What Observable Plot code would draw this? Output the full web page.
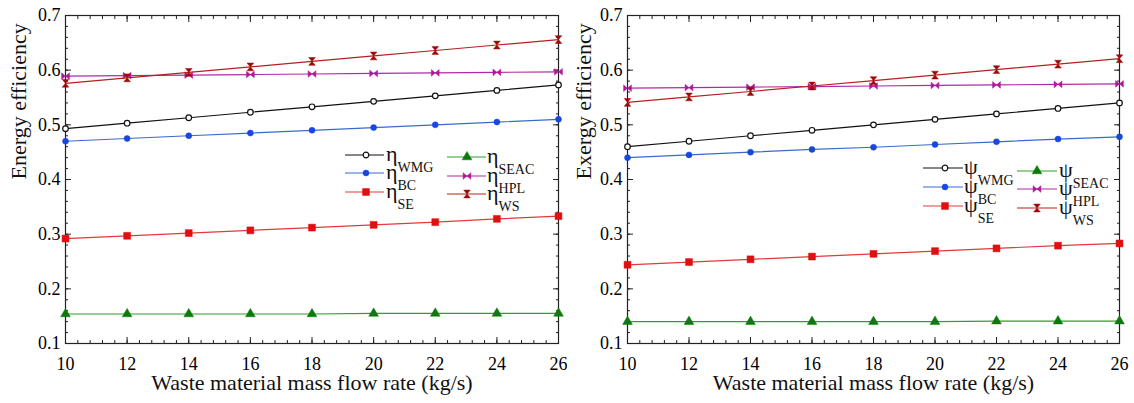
<!DOCTYPE html>
<html><head><meta charset="utf-8">
<script src="https://cdn.jsdelivr.net/npm/d3@7"></script>
<script src="https://cdn.jsdelivr.net/npm/@observablehq/plot@0.6"></script>
<style>
body{margin:0;background:#fff;}
#wrap{position:relative;width:1134px;height:403px;display:flex;}
#legend{position:absolute;left:0;top:0;pointer-events:none;}
.ser{font-family:"Liberation Serif";}
</style>
</head><body><div id="wrap"></div><script>
// ---- data ----
const flow = [10, 12, 14, 16, 18, 20, 22, 24, 26];
const xTicks = [10, 12, 14, 16, 18, 20, 22, 24, 26];
const yTicks = [0.1, 0.2, 0.3, 0.4, 0.5, 0.6, 0.7];

const etaWMG  = [0.493, 0.503, 0.513, 0.523, 0.533, 0.543, 0.553, 0.563, 0.573];
const etaBC   = [0.470, 0.475, 0.480, 0.485, 0.490, 0.495, 0.500, 0.505, 0.510];
const etaSE   = [0.292, 0.297, 0.302, 0.307, 0.312, 0.317, 0.322, 0.328, 0.333];
const etaSEAC = [0.154, 0.154, 0.154, 0.154, 0.154, 0.155, 0.155, 0.155, 0.155];
const etaHPL  = [0.589, 0.590, 0.591, 0.592, 0.593, 0.594, 0.595, 0.596, 0.597];
const etaWS   = [0.576, 0.586, 0.596, 0.606, 0.616, 0.626, 0.636, 0.646, 0.656];

const psiWMG  = [0.460, 0.470, 0.480, 0.490, 0.500, 0.510, 0.520, 0.530, 0.540];
const psiBC   = [0.440, 0.445, 0.450, 0.455, 0.459, 0.464, 0.469, 0.474, 0.478];
const psiSE   = [0.244, 0.249, 0.254, 0.259, 0.264, 0.269, 0.274, 0.279, 0.283];
const psiSEAC = [0.140, 0.140, 0.140, 0.140, 0.140, 0.140, 0.141, 0.141, 0.141];
const psiHPL  = [0.567, 0.568, 0.569, 0.570, 0.571, 0.572, 0.573, 0.574, 0.575];
const psiWS   = [0.541, 0.551, 0.561, 0.571, 0.581, 0.591, 0.601, 0.611, 0.621];

const seriesNames = ["WMG", "BC", "SE", "SEAC", "HPL", "WS"];
const FONT = '"Liberation Serif"';

// ---- styles ----
const bowtie = {draw(ctx, size) { const r = Math.sqrt(size / Math.PI);
  ctx.moveTo(-r, -r * 0.85); ctx.lineTo(r, r * 0.85); ctx.lineTo(r, -r * 0.85); ctx.lineTo(-r, r * 0.85); ctx.closePath(); }};
const hourglass = {draw(ctx, size) { const r = Math.sqrt(size / Math.PI);
  ctx.moveTo(-r * 0.85, -r); ctx.lineTo(r * 0.85, -r); ctx.lineTo(-r * 0.85, r); ctx.lineTo(r * 0.85, r); ctx.closePath(); }};

const style = {
  WMG:  {line: "#111", fill: "#fff", stroke: "#111", symbol: "circle", r: 2.8, sw: 1.2},
  BC:   {line: "#3a6ad0", fill: "#1846e0", stroke: "#1846e0", symbol: "circle", r: 3.0, sw: 0.5},
  SE:   {line: "#e23a3a", fill: "#e01010", stroke: "#e01010", symbol: "square", r: 3.9, sw: 0.5},
  SEAC: {line: "#2ea02e", fill: "#0a7a0a", stroke: "#0a7a0a", symbol: "triangle", r: 3.6, sw: 0.5},
  HPL:  {line: "#b02aa6", fill: "#b0189a", stroke: "#b0189a", symbol: bowtie, r: 3.9, sw: 0.5},
  WS:   {line: "#b52020", fill: "#a00808", stroke: "#a00808", symbol: hourglass, r: 3.9, sw: 0.5}
};

function rowsFor(vals) { return flow.map((x, i) => ({x, y: vals[i]})); }

function panel({series, width, marginLeft, marginRight, ylabel, ylabelDx}) {
  const xMinor = d3.range(10, 26.001, 0.4);
  const yMinor = d3.range(0.1, 0.7001, 0.02);
  const ax = {label: null, stroke: "#222"};
  const marks = [
    Plot.frame({stroke: "#222", strokeWidth: 1.2}),
    Plot.axisX(xTicks, {...ax, anchor: "bottom", tickSize: -6, tickPadding: 20, fontSize: 18, tickFormat: d => String(d)}),
    Plot.axisX(xTicks, {...ax, anchor: "top", tickSize: -6, tickFormat: () => ""}),
    Plot.axisX(xMinor, {...ax, anchor: "bottom", tickSize: -3, tickFormat: () => ""}),
    Plot.axisX(xMinor, {...ax, anchor: "top", tickSize: -3, tickFormat: () => ""}),
    Plot.axisY(yTicks, {...ax, anchor: "left", tickSize: -6, tickPadding: 11, fontSize: 18, tickFormat: d => String(d)}),
    Plot.axisY(yTicks, {...ax, anchor: "right", tickSize: -6, tickFormat: () => ""}),
    Plot.axisY(yMinor, {...ax, anchor: "left", tickSize: -3, tickFormat: () => ""}),
    Plot.axisY(yMinor, {...ax, anchor: "right", tickSize: -3, tickFormat: () => ""}),
  ];
  seriesNames.forEach(k => {
    const s = style[k], rows = rowsFor(series[k]);
    marks.push(Plot.line(rows, {x: "x", y: "y", stroke: s.line, strokeWidth: 1.2}));
    marks.push(Plot.dot(rows, {x: "x", y: "y", symbol: s.symbol, r: s.r, fill: s.fill, stroke: s.stroke, strokeWidth: s.sw}));
  });
  marks.push(Plot.text([ylabel], {frameAnchor: "left", dx: ylabelDx, rotate: -90, fontSize: 22, text: d => d, fill: "#111"}));
  marks.push(Plot.text(["Waste material mass flow rate (kg/s)"], {frameAnchor: "bottom", dy: 46, fontSize: 22, text: d => d, fill: "#111"}));
  return Plot.plot({
    width, height: 403, marginLeft, marginRight, marginTop: 15, marginBottom: 60,
    x: {domain: [10, 26], axis: null},
    y: {domain: [0.1, 0.7], axis: null},
    marks
  });
}

const wrap = document.getElementById("wrap");
wrap.appendChild(panel({
  series: {WMG: etaWMG, BC: etaBC, SE: etaSE, SEAC: etaSEAC, HPL: etaHPL, WS: etaWS},
  width: 567, marginLeft: 65, marginRight: 9, ylabel: "Energy efficiency", ylabelDx: -47
}));
wrap.appendChild(panel({
  series: {WMG: psiWMG, BC: psiBC, SE: psiSE, SEAC: psiSEAC, HPL: psiHPL, WS: psiWS},
  width: 567, marginLeft: 60, marginRight: 15, ylabel: "Exergy efficiency", ylabelDx: -44
}));

// ---- legends ----
const leg = d3.select(wrap).append("svg").attr("id", "legend").attr("width", 1134).attr("height", 403);
function symPath(k) {
  const s = style[k];
  const type = s.symbol === "circle" ? d3.symbolCircle : s.symbol === "square" ? d3.symbolSquare :
               s.symbol === "triangle" ? d3.symbolTriangle : s.symbol;
  return d3.symbol(type, Math.PI * s.r * s.r)();
}
function legend(greek, cols) {
  cols.forEach(col => {
    col.items.forEach((k, i) => {
      const y = col.rows[i], s = style[k];
      leg.append("line").attr("x1", col.x0).attr("x2", col.x1).attr("y1", y).attr("y2", y)
        .attr("stroke", s.line).attr("stroke-width", 1.2);
      leg.append("path").attr("d", symPath(k)).attr("transform", `translate(${col.xm},${y})`)
        .attr("fill", s.fill).attr("stroke", s.stroke).attr("stroke-width", s.sw);
      const t = leg.append("text").attr("x", col.xt).attr("y", y + 6).attr("fill", "#111");
      t.append("tspan").attr("font-size", 22).text(greek);
      t.append("tspan").attr("font-size", 14).attr("dy", 11).text(k);
    });
  });
}
legend("η", [
  {items: ["WMG", "BC", "SE"], rows: [155, 173, 192], x0: 345, x1: 384, xm: 366, xt: 386},
  {items: ["SEAC", "HPL", "WS"], rows: [157, 176, 194], x0: 447, x1: 486, xm: 467, xt: 487}
]);
legend("ψ", [
  {items: ["WMG", "BC", "SE"], rows: [168, 187, 206], x0: 923, x1: 963, xm: 945, xt: 964},
  {items: ["SEAC", "HPL", "WS"], rows: [171, 189, 208], x0: 1017, x1: 1057, xm: 1037, xt: 1059}
]);

// force serif font on every text
d3.select(wrap).selectAll("svg").attr("font-family", "Liberation Serif");
d3.select(wrap).selectAll("text, tspan")
  .attr("font-family", "Liberation Serif").classed("ser", true).style("font-family", FONT);
</script></body></html>
